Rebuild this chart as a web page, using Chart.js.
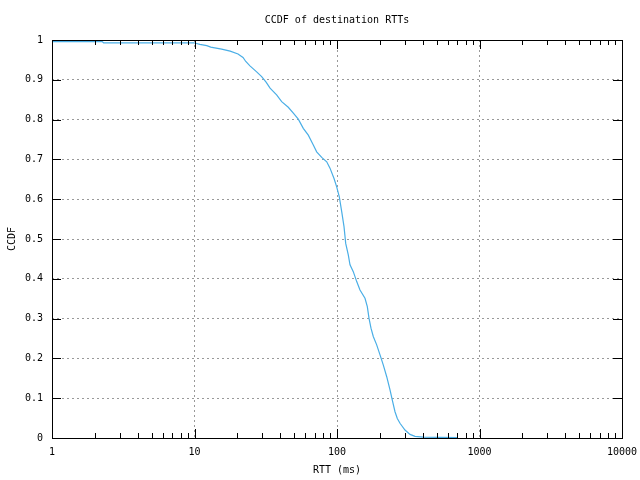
<!DOCTYPE html>
<html>
<head>
<meta charset="utf-8">
<script src="https://cdn.jsdelivr.net/npm/chart.js@4/dist/chart.umd.min.js"></script>
<style>
    html, body { margin: 0; padding: 0; background: #fff; }
</style>
</head>
<body>
<canvas id="ccdfChart" width="640" height="480"></canvas>
<script>
// values (RTT in ms, CCDF)
const rttMs = [1, 2.25, 2.3, 9.9, 10.9, 12.2, 13.0, 15.5, 17.8, 20.2, 21.9, 22.9, 24.5, 27.3, 29.6,
    31.8, 33.9, 37.7, 40.9, 45.5, 49.4, 53.5, 58.0, 62.9, 68.2, 72.0, 78.1, 84.7, 89.3, 95.3, 99.5,
    103.8, 107.9, 112.0, 115.1, 120.0, 123.4, 130.1, 137.5, 145.0, 157.2, 163.2, 167.7, 173.2, 179.7,
    189.9, 200.4, 211.4, 223.3, 235.5, 246.0, 255.3, 265.0, 276.7, 300.0, 325.4, 352.7, 403.3, 706];
const ccdf = [0.996, 0.996, 0.993, 0.993, 0.989, 0.986, 0.982, 0.977, 0.972, 0.965, 0.956, 0.946, 0.935, 0.920, 0.908,
    0.894, 0.879, 0.862, 0.845, 0.831, 0.816, 0.801, 0.778, 0.761, 0.736, 0.719, 0.705, 0.694, 0.678, 0.652, 0.631,
    0.606, 0.569, 0.531, 0.489, 0.460, 0.435, 0.418, 0.393, 0.372, 0.351, 0.330, 0.301, 0.276, 0.255,
    0.234, 0.209, 0.183, 0.154, 0.121, 0.091, 0.066, 0.049, 0.037, 0.020, 0.009, 0.004, 0.002, 0.001];
const xTicks = [1, 10, 100, 1000, 10000];
const yTicks = [0, 0.1, 0.2, 0.3, 0.4, 0.5, 0.6, 0.7, 0.8, 0.9, 1];

const FONT = '"DejaVu Sans Mono", "Liberation Mono", monospace';

// gnuplot-style frame, tick marks and texts
const framePlugin = {
    id: 'frame',
    afterDraw(chart) {
        const ctx = chart.ctx;
        const a = chart.chartArea;
        const xs = chart.scales.x;
        const ys = chart.scales.y;
        ctx.save();
        ctx.strokeStyle = '#000';
        ctx.lineWidth = 1;
        ctx.strokeRect(Math.round(a.left) + 0.5, Math.round(a.top) + 0.5,
            Math.round(a.right - a.left), Math.round(a.bottom - a.top));

        ctx.beginPath();
        for (let d = 1; d < 10000; d *= 10) {
            for (let m = 1; m <= 9; m++) {
                const px = Math.round(xs.getPixelForValue(d * m)) + 0.5;
                const len = m === 1 ? 9 : 5;
                ctx.moveTo(px, a.bottom); ctx.lineTo(px, a.bottom - len);
                ctx.moveTo(px, a.top); ctx.lineTo(px, a.top + len);
            }
        }
        yTicks.forEach(v => {
            const py = Math.round(ys.getPixelForValue(v)) + 0.5;
            ctx.moveTo(a.left, py); ctx.lineTo(a.left + 9, py);
            ctx.moveTo(a.right, py); ctx.lineTo(a.right - 9, py);
        });
        ctx.stroke();

        ctx.fillStyle = '#000';
        ctx.font = '10px ' + FONT;
        ctx.textAlign = 'center';
        ctx.textBaseline = 'middle';
        const cx = (a.left + a.right) / 2;
        ctx.fillText('CCDF of destination RTTs', cx, 20);
        ctx.fillText('RTT (ms)', cx, 470);
        ctx.translate(12, (a.top + a.bottom) / 2);
        ctx.rotate(-Math.PI / 2);
        ctx.fillText('CCDF', 0, 0);
        ctx.restore();
    }
};

new Chart(document.getElementById('ccdfChart').getContext('2d'), {
    type: 'line',
    data: {
        labels: rttMs,
        datasets: [{
            label: 'CCDF',
            data: rttMs.map((v, i) => ({ x: v, y: ccdf[i] })),
            borderColor: '#4aaee6',
            borderWidth: 1.2,
            pointRadius: 0,
            tension: 0,
            fill: false
        }]
    },
    options: {
        responsive: false,
        animation: false,
        layout: { padding: { left: 0, right: 18, top: 40, bottom: 0 } },
        plugins: { legend: { display: false }, title: { display: false }, tooltip: { enabled: false } },
        scales: {
            x: {
                type: 'logarithmic',
                min: 1,
                max: 10000,
                afterBuildTicks: scale => { scale.ticks = xTicks.map(v => ({ value: v })); },
                afterFit: scale => { scale.height = 42; scale.paddingLeft = 0; scale.paddingRight = 0; },
                ticks: {
                    autoSkip: false,
                    maxRotation: 0,
                    padding: 8,
                    color: '#000',
                    font: { family: FONT, size: 10 },
                    callback: v => String(v)
                },
                grid: { color: '#999', lineWidth: 1, drawTicks: false },
                border: { display: false, dash: [2, 3] }
            },
            y: {
                type: 'linear',
                min: 0,
                max: 1,
                afterBuildTicks: scale => { scale.ticks = yTicks.map(v => ({ value: v })); },
                afterFit: scale => { scale.width = 52; scale.paddingTop = 0; scale.paddingBottom = 0; },
                ticks: {
                    padding: 9,
                    color: '#000',
                    font: { family: FONT, size: 10 },
                    callback: v => String(Number(v.toFixed(1)))
                },
                grid: { color: '#999', lineWidth: 1, drawTicks: false },
                border: { display: false, dash: [2, 3] }
            }
        }
    },
    plugins: [framePlugin]
});
</script>
</body>
</html>
